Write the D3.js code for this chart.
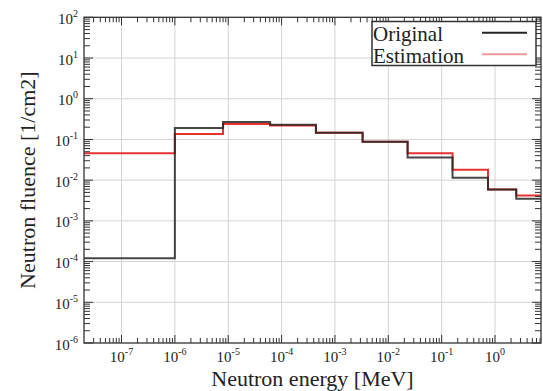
<!DOCTYPE html>
<html>
<head>
<meta charset="utf-8">
<script src="https://cdn.jsdelivr.net/npm/d3@7"></script>
<style>
  body { margin: 0; background: #fff; }
</style>
</head>
<body>
<svg id="chart" width="543" height="391"></svg>
<script>
// DATA: energy group edges [MeV] and group fluence [1/cm2]
const binEdges = [1e-8, 1e-6, 8e-6, 6.1e-5, 4.4e-4, 3.3e-3, 2.3e-2, 0.16, 0.74, 2.5, 10];
const originalFluence = [1.2e-4, 0.19, 0.27, 0.23, 0.146, 0.088, 0.036, 0.0115, 0.0059, 0.0035];
const estimationFluence = [0.046, 0.136, 0.24, 0.22, 0.146, 0.088, 0.046, 0.018, 0.0059, 0.0042];
const xTickExponents = [-7, -6, -5, -4, -3, -2, -1, 0];
const yTickExponents = [-6, -5, -4, -3, -2, -1, 0, 1, 2];
const seriesNames = ["Original", "Estimation"];

// LAYOUT
const plotLeft = 84, plotRight = 541, plotTop = 17.3, plotBottom = 343;
const blackColor = "#262626";
const redColor = "#e5322f";
const legendRed = "#ef9a9a";
const serifFont = "'Liberation Serif', 'Times New Roman', 'DejaVu Serif', serif";

const svg = d3.select("#chart")
    .attr("font-family", serifFont)
    .style("font-family", serifFont);

const x = d3.scaleLog()
    .domain([Math.pow(10, -7.703), Math.pow(10, 0.862)])
    .range([plotLeft, plotRight]);

const y = d3.scaleLog()
    .domain([1e-6, 1e2])
    .range([plotBottom, plotTop]);

const isMajor = d => Math.abs(Math.log10(d) - Math.round(Math.log10(d))) < 1e-9;

// ---------------------------------------------------------------------------------
// GRID
svg.append("g").selectAll("line")
    .data(xTickExponents)
    .join("line")
    .attr("x1", d => x(Math.pow(10, d)))
    .attr("x2", d => x(Math.pow(10, d)))
    .attr("y1", plotTop)
    .attr("y2", plotBottom)
    .attr("stroke", "#d4d4d4")
    .attr("stroke-width", 1);

svg.append("g").selectAll("line")
    .data(yTickExponents.slice(1, -1))
    .join("line")
    .attr("x1", plotLeft)
    .attr("x2", plotRight)
    .attr("y1", d => y(Math.pow(10, d)))
    .attr("y2", d => y(Math.pow(10, d)))
    .attr("stroke", "#d4d4d4")
    .attr("stroke-width", 1);

// ---------------------------------------------------------------------------------
// STEP LINES
svg.append("clipPath").attr("id", "plot_clip")
    .append("rect")
    .attr("x", plotLeft).attr("y", plotTop)
    .attr("width", plotRight - plotLeft).attr("height", plotBottom - plotTop);

const stepLine = d3.line()
    .x(d => x(d[0]))
    .y(d => y(d[1]))
    .curve(d3.curveStepAfter);

function stepPoints(values) {
    return binEdges.map((e, i) => [e, values[Math.min(i, values.length - 1)]]);
}

const lines = svg.append("g").attr("clip-path", "url(#plot_clip)");

lines.append("path")
    .attr("d", stepLine(stepPoints(estimationFluence)))
    .attr("fill", "none")
    .attr("stroke", redColor)
    .attr("stroke-width", 2);

lines.append("path")
    .attr("d", stepLine(stepPoints(originalFluence)))
    .attr("fill", "none")
    .attr("stroke", blackColor)
    .attr("stroke-opacity", 0.85)
    .attr("stroke-width", 2);

// ---------------------------------------------------------------------------------
// FRAME AND INWARD TICKS
const ticksG = svg.append("g").attr("stroke", "#333").attr("stroke-width", 1);

x.ticks().forEach(function(t) {
    const px = x(t);
    if (px < plotLeft + 0.5 || px > plotRight - 0.5) return;
    const len = isMajor(t) ? 8 : 5;
    ticksG.append("line").attr("x1", px).attr("x2", px).attr("y1", plotBottom).attr("y2", plotBottom - len);
    ticksG.append("line").attr("x1", px).attr("x2", px).attr("y1", plotTop).attr("y2", plotTop + len);
});

y.ticks().forEach(function(t) {
    const py = y(t);
    const len = isMajor(t) ? 9 : 6;
    ticksG.append("line").attr("x1", plotLeft).attr("x2", plotLeft + len).attr("y1", py).attr("y2", py);
    ticksG.append("line").attr("x1", plotRight).attr("x2", plotRight - len).attr("y1", py).attr("y2", py);
});

svg.append("rect")
    .attr("x", plotLeft).attr("y", plotTop)
    .attr("width", plotRight - plotLeft).attr("height", plotBottom - plotTop)
    .attr("fill", "none")
    .attr("stroke", "#333")
    .attr("stroke-width", 1.3);

// ---------------------------------------------------------------------------------
// TICK LABELS (10 with superscript exponent)
function powerLabel(sel, exp) {
    sel.append("tspan").text("10");
    sel.append("tspan").attr("dy", -7).attr("font-size", 10).text(exp);
}

svg.append("g").selectAll("text")
    .data(xTickExponents)
    .join("text")
    .attr("x", d => x(Math.pow(10, d)))
    .attr("y", 362)
    .attr("text-anchor", "middle")
    .attr("font-size", 15)
    .attr("fill", "#222")
    .each(function(d) { powerLabel(d3.select(this), d); });

svg.append("g").selectAll("text")
    .data(yTickExponents)
    .join("text")
    .attr("x", 78)
    .attr("y", d => y(Math.pow(10, d)) + 6.5)
    .attr("text-anchor", "end")
    .attr("font-size", 15)
    .attr("fill", "#222")
    .each(function(d) { powerLabel(d3.select(this), d); });

// ---------------------------------------------------------------------------------
// AXIS TITLES
svg.append("text")
    .attr("x", (plotLeft + plotRight) / 2)
    .attr("y", 386)
    .attr("text-anchor", "middle")
    .attr("font-size", 22)
    .attr("fill", "#222")
    .text("Neutron energy [MeV]");

svg.append("text")
    .attr("transform", `translate(35, ${(plotTop + plotBottom) / 2}) rotate(-90)`)
    .attr("text-anchor", "middle")
    .attr("font-size", 22)
    .attr("fill", "#222")
    .text("Neutron fluence [1/cm2]");

// ---------------------------------------------------------------------------------
// LEGEND
const legend = svg.append("g");
legend.append("rect")
    .attr("x", 372).attr("y", 21.5)
    .attr("width", 164).attr("height", 44)
    .attr("fill", "#fff")
    .attr("stroke", "#333")
    .attr("stroke-width", 1.5);

const legendColors = [blackColor, legendRed];
seriesNames.forEach(function(name, i) {
    legend.append("text")
        .attr("x", 373)
        .attr("y", 40.5 + i * 22.5)
        .attr("font-size", 21)
        .attr("fill", "#222")
        .text(name);
    legend.append("line")
        .attr("x1", 482).attr("x2", 527)
        .attr("y1", 32.7 + i * 21.5).attr("y2", 32.7 + i * 21.5)
        .attr("stroke", legendColors[i])
        .attr("stroke-width", 2);
});
</script>
</body>
</html>
